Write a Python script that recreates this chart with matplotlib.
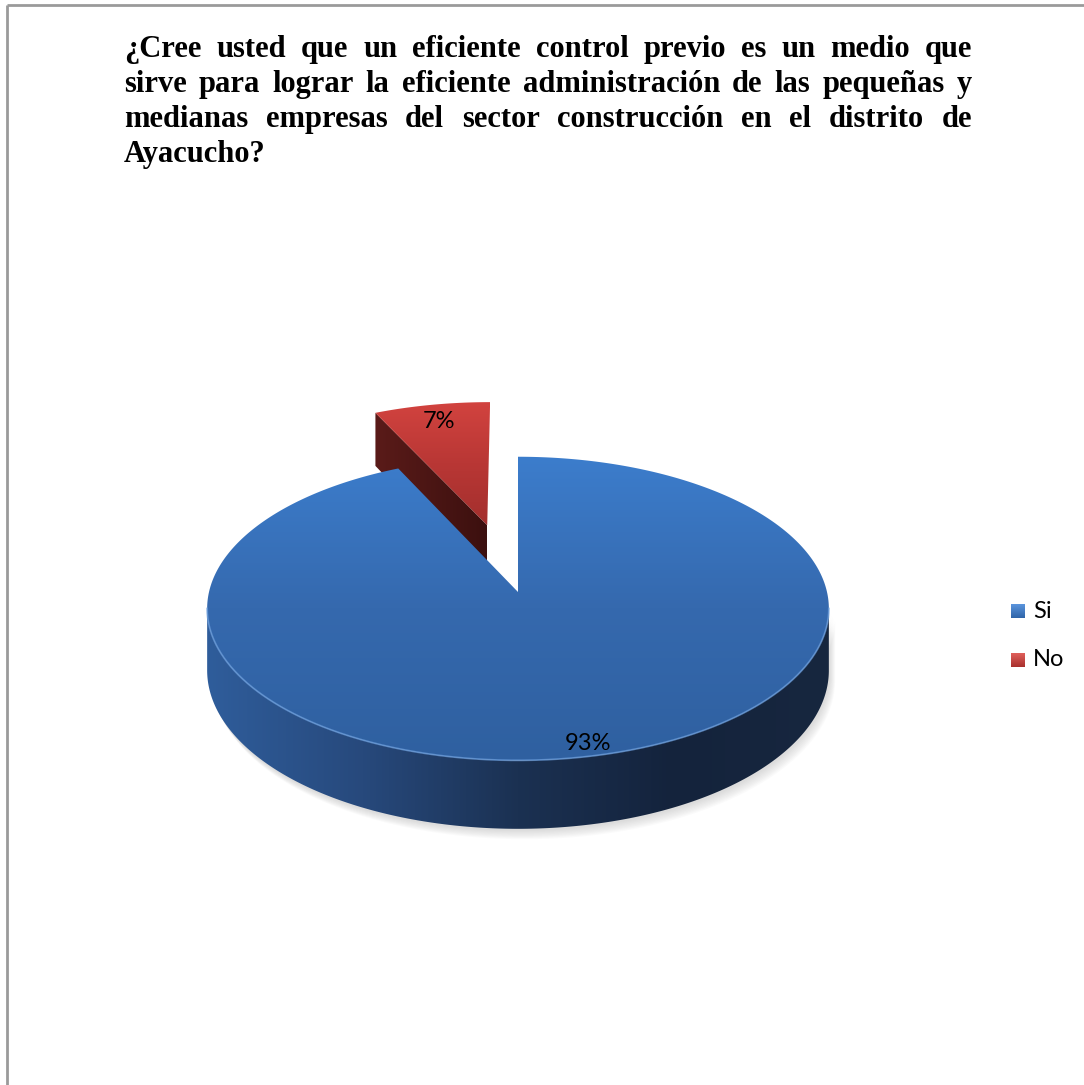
#!/usr/bin/env python3
# -*- coding: utf-8 -*-
"""
Torta 3D: control previo y administración de pymes (Ayacucho)
"""
import numpy as np
import matplotlib.pyplot as plt
from matplotlib.patches import Polygon
from matplotlib.colors import LinearSegmentedColormap

#%% Datos
categorias = ['Si', 'No']
porcentajes = [93, 7]
titulo = ['¿Cree usted que un eficiente control previo es un medio que',
          'sirve para lograr la eficiente administración de las pequeñas y',
          'medianas empresas del sector construcción en el distrito de',
          'Ayacucho?']

# colores (cara superior, lateral, corte)
col_sup = [['#3c7dcc', '#3569ae', '#2f60a0'],
           ['#d2433f', '#b93735', '#a32f2d']]
col_lat = [['#2f5d9b', '#27497c', '#1b3152', '#14233c', '#17273f'],
           ['#5a1b19', '#3c100f']]
col_ley = [['#5b95dd', '#2f64a8'], ['#e0605b', '#a8302d']]

#%% Lienzo en pixeles
W, H = 1084, 1085
fig = plt.figure(figsize=(W / 100, H / 100), dpi=100)
ax = fig.add_axes([0, 0, 1, 1])
ax.axis('off')

# geometría de la torta
cx, cy = 518, 592
rx, ry = 309, 150
k = 0.109          # perspectiva
prof = 61          # grosor
explode = [0.0, 0.48]
r_etiq = [0.93, 0.85]


def proyectar(u, v, h=0.0):
    d = 1 + k * v
    return np.column_stack([cx + rx * u / d, cy - ry * v / d + h / d])


def relleno(xy, colores, vertical=True, z=1):
    patch = Polygon(xy, closed=True, facecolor='none', edgecolor='none')
    ax.add_patch(patch)
    x0, y0 = xy.min(0)
    x1, y1 = xy.max(0)
    cmap = LinearSegmentedColormap.from_list('g', colores)
    g = np.linspace(0, 1, 256)
    g = g[:, None] if vertical else g[None, :]
    im = ax.imshow(g, cmap=cmap, extent=(x0, x1, y1, y0), aspect='auto',
                   zorder=z, interpolation='bilinear')
    im.set_clip_path(patch)


#%% Porciones (sentido horario desde las 12)
total = sum(porcentajes)
inicio = 90.0
porciones = []
for i, p in enumerate(porcentajes):
    span = p / total * 360
    t = np.radians(np.linspace(inicio - span, inicio, 400))
    m = np.radians(inicio - span / 2)
    ou, ov = explode[i] * np.cos(m), explode[i] * np.sin(m)
    porciones.append((t, m, ou, ov))
    inicio -= span

# porción "No" (detrás)
t, m, ou, ov = porciones[1]
a = t[-1]
corte = np.vstack([proyectar(np.array([ou]), np.array([ov])),
                   proyectar(np.array([ou + np.cos(a)]), np.array([ov + np.sin(a)])),
                   proyectar(np.array([ou + np.cos(a)]), np.array([ov + np.sin(a)]), prof),
                   proyectar(np.array([ou]), np.array([ov]), prof)])
relleno(corte, col_lat[1], vertical=False, z=2)
sup = np.vstack([proyectar(np.array([ou]), np.array([ov])),
                 proyectar(ou + np.cos(t), ov + np.sin(t))])
relleno(sup, col_sup[1], z=3)

# porción "Si" (delante)
t, m, ou, ov = porciones[0]
ts = np.radians(np.linspace(-180, 0, 721))
borde = proyectar(np.cos(ts), np.sin(ts))
tl = np.linspace(ts[np.argmin(borde[:, 0])], ts[np.argmax(borde[:, 0])], 500)
lateral = np.vstack([proyectar(np.cos(tl), np.sin(tl)),
                     proyectar(np.cos(tl), np.sin(tl), prof)[::-1]])

# sombra suave bajo el lateral
for j in range(8):
    s = 2 + j * 1.2
    ax.add_patch(Polygon(lateral + [s * 0.6, s], closed=True, facecolor='#808080',
                         edgecolor='none', alpha=0.035, zorder=1))

relleno(lateral, col_lat[0], vertical=False, z=4)
sup = np.vstack([proyectar(np.array([ou]), np.array([ov])),
                 proyectar(ou + np.cos(t), ov + np.sin(t))])
relleno(sup, col_sup[0], z=5)
brillo = proyectar(np.cos(tl), np.sin(tl))
ax.plot(brillo[:, 0], brillo[:, 1], color='#6a9ddc', lw=1.3, alpha=0.7, zorder=6)

#%% Etiquetas de porcentaje
for i, (t, m, ou, ov) in enumerate(porciones):
    pos = proyectar(np.array([ou + r_etiq[i] * np.cos(m)]),
                    np.array([ov + r_etiq[i] * np.sin(m)]))[0]
    ax.text(pos[0], pos[1], f'{porcentajes[i]}%', ha='center', va='center',
            fontsize=17, family='Lato', color='black', zorder=10)

#%% Leyenda
for i, c in enumerate(categorias):
    y = 611 + 49 * i
    relleno(np.array([[1011, y - 7], [1025, y - 7], [1025, y + 7], [1011, y + 7]]),
            col_ley[i], z=10)
    ax.text(1033, y, c, ha='left', va='center', fontsize=17, family='Lato',
            color='black', zorder=10)

#%% Título justificado
ax.set_xlim(0, W)
ax.set_ylim(H, 0)
renderer = fig.canvas.get_renderer()
fs = 22
x_izq, x_der = 124, 972
for n, linea in enumerate(titulo):
    yb = 57 + 35 * n
    palabras = linea.split()
    textos = [ax.text(0, yb, w, fontsize=fs, family='Liberation Serif',
                      weight='bold', va='baseline', ha='left') for w in palabras]
    anchos = [tx.get_window_extent(renderer).width for tx in textos]
    if n < len(titulo) - 1 and len(palabras) > 1:
        hueco = (x_der - x_izq - sum(anchos)) / (len(palabras) - 1)
    else:
        hueco = fs * 0.35
    x = x_izq
    for tx, w in zip(textos, anchos):
        tx.set_x(x)
        x += w + hueco

# marco
ax.plot([7, W], [5, 5], color='#9a9a9a', lw=2, solid_capstyle='butt', zorder=20)
ax.plot([7, 7], [5, H], color='#9a9a9a', lw=2, solid_capstyle='butt', zorder=20)

ax.set_xlim(0, W)
ax.set_ylim(H, 0)
fig.savefig('out.png', dpi=100)
